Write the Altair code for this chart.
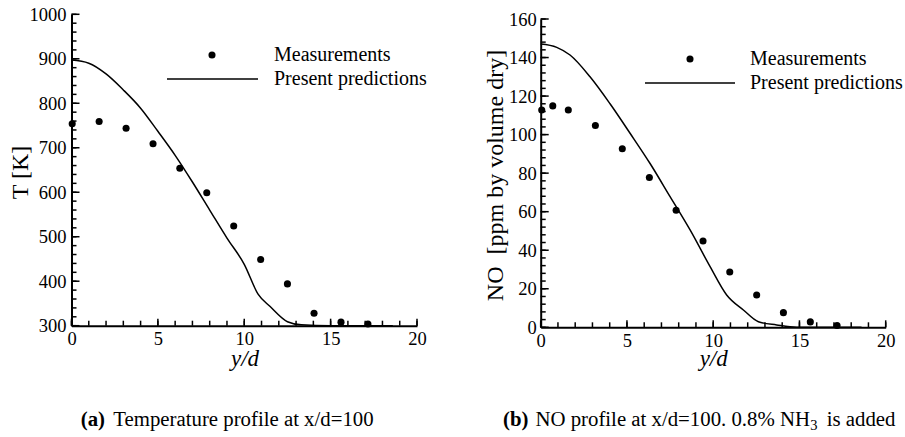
import altair as alt
import pandas as pd

FONT = "Liberation Serif"

# ---------------- data ----------------
# (a) temperature
t_meas_x = [0.04, 1.6, 3.16, 4.72, 6.27, 7.83, 9.39, 10.95, 12.5, 14.04, 15.6, 17.16]
t_meas_y = [754, 759, 744, 709, 654, 599, 524, 449, 394, 328, 308, 304]
t_pred_x = [0, 1, 2, 3, 4, 5, 6, 7, 8, 9, 10, 10.8, 11.5, 12.5, 13.3, 15, 18.6]
t_pred_y = [897, 890, 866, 830, 789, 737, 683, 623, 560, 497, 438, 371, 343, 309, 302, 300, 300]

# (b) NO
no_meas_x = [0.06, 0.7, 1.6, 3.17, 4.73, 6.3, 7.85, 9.41, 10.96, 12.52, 14.07, 15.63, 17.18]
no_meas_y = [112.8, 114.9, 112.8, 104.7, 92.7, 77.7, 60.7, 44.8, 28.7, 16.8, 7.6, 2.8, 0.9]
no_pred_x = [0, 0.93, 1.7, 2.86, 4.02, 5.18, 6.34, 7.5, 8.66, 9.82, 10.78, 11.75, 12.62, 13.68, 14.84, 18.6]
no_pred_y = [147, 145.3, 141.3, 130, 116, 100.7, 85, 67.8, 50.5, 31.5, 16.8, 9, 2.9, 1.2, 0, 0]

x_major = [0, 5, 10, 15, 20]
x_minor = list(range(0, 21))
t_major = list(range(300, 1001, 100))
t_minor = list(range(300, 1001, 20))
no_major = list(range(0, 161, 20))
no_minor = list(range(0, 161, 4))

legend_labels = ["Measurements", "Present predictions"]
x_title = "y/d"
t_title = "T [K]"
no_title = "NO\u00a0\u00a0[ppm by volume dry]"

# ---------------- geometry ----------------
W = 814.2
H = 313

t_meas = pd.DataFrame({"x": t_meas_x, "y": t_meas_y})
t_pred = pd.DataFrame({"x": t_pred_x, "y": t_pred_y})
no_meas = pd.DataFrame({"x": no_meas_x, "y": no_meas_y})
no_pred = pd.DataFrame({"x": no_pred_x, "y": no_pred_y})
one = pd.DataFrame({"k": [0]})


def label_axis_x(offset, tx, ty):
    return alt.Axis(orient="bottom", offset=offset, values=x_major, ticks=False, tickSize=0,
                    format="d", labelPadding=4, labelFont=FONT, labelFontSize=18.5,
                    labelColor="black", labelFlush=False, labelOverlap=False, domain=True,
                    domainColor="black", domainWidth=2, grid=False, title=x_title,
                    titleFont=FONT, titleFontSize=23, titleFontStyle="italic",
                    titleFontWeight="normal", titleColor="black", titleX=tx, titleY=ty,
                    titleBaseline="alphabetic", titleAlign="center")


def label_axis_y(offset, vals, title, tx, ty, pad):
    return alt.Axis(orient="left", offset=offset, values=vals, ticks=False, tickSize=0,
                    format="d", labelPadding=pad, labelFont=FONT, labelFontSize=18.5,
                    labelColor="black", labelFlush=False, labelOverlap=False, domain=True,
                    domainColor="black", domainWidth=2, grid=False, title=title,
                    titleFont=FONT, titleFontSize=24, titleFontWeight="normal",
                    titleColor="black", titleAngle=270, titleX=tx, titleY=ty,
                    titleBaseline="alphabetic", titleAlign="center")


TICK_COLOR = "black"


def tick_layers(xs, ys, xax, yax, bottom_px, left_px, xvals, yvals, xlen, ylen):
    """Inward ticks drawn as rules placed through the panel's own scales."""
    xt = alt.Chart(pd.DataFrame({"v": xvals})).mark_rule(color=TICK_COLOR, strokeWidth=1.5).encode(
        x=alt.X("v:Q", scale=xs, axis=xax),
        y=alt.value(bottom_px), y2=alt.value(bottom_px - xlen))
    yt = alt.Chart(pd.DataFrame({"v": yvals})).mark_rule(color=TICK_COLOR, strokeWidth=1.5).encode(
        y=alt.Y("v:Q", scale=ys, axis=yax),
        x=alt.value(left_px), x2=alt.value(left_px + ylen))
    return [xt, yt]


def panel(meas, pred, xs, ys, xax, yax, bottom_px, left_px, ymaj, ymin):
    pts = alt.Chart(meas).mark_circle(size=50, color="black", opacity=1).encode(
        x=alt.X("x:Q", scale=xs, axis=xax),
        y=alt.Y("y:Q", scale=ys, axis=yax),
    )
    line = alt.Chart(pred).mark_line(color="black", strokeWidth=1.5, interpolate="monotone").encode(
        x=alt.X("x:Q", scale=xs, axis=xax),
        y=alt.Y("y:Q", scale=ys, axis=yax),
    )
    layers = [pts, line]
    layers += tick_layers(xs, ys, xax, yax, bottom_px, left_px, x_major, ymaj, 7, 8)
    layers += tick_layers(xs, ys, xax, yax, bottom_px, left_px, x_minor, ymin, 5, 5)
    return alt.layer(*layers)


# left panel (a)
lxs = alt.Scale(domain=[0, 20], range=[0, 345.5], nice=False, zero=False)
lys = alt.Scale(domain=[300, 1000], range=[311.4, 0], nice=False, zero=False)
left = panel(t_meas, t_pred, lxs, lys,
             label_axis_x(-1.6, 173, 39.5),
             label_axis_y(0, t_major, t_title, -44, 157.7, 5.5),
             311.4, 0, t_major, t_minor)

# right panel (b)
rxs = alt.Scale(domain=[0, 20], range=[469.2, 814.2], nice=False, zero=False)
rys = alt.Scale(domain=[0, 160], range=[313, 4.7], nice=False, zero=False)
right = panel(no_meas, no_pred, rxs, rys,
              label_axis_x(0, 641.7, 38),
              label_axis_y(-469.2, no_major, no_title, -38.7, 160.7, 4.5),
              313, 469.2, no_major, no_minor)


def txt(s, x, y, size=20, weight="normal", align="left", baseline="middle"):
    return alt.Chart(one).mark_text(text=s, font=FONT, fontSize=size, fontWeight=weight,
                                    align=align, baseline=baseline, color="black").encode(
        x=alt.value(x), y=alt.value(y))


def legend(mx, my, lx1, lx2, ly, tx):
    dot = alt.Chart(one).mark_circle(size=50, color="black", opacity=1).encode(
        x=alt.value(mx), y=alt.value(my))
    seg = alt.Chart(one).mark_rule(color="black", strokeWidth=1.5).encode(
        x=alt.value(lx1), x2=alt.value(lx2), y=alt.value(ly))
    return [dot, seg, txt(legend_labels[0], tx, my), txt(legend_labels[1], tx, ly)]


ann = []
ann += legend(140.5, 40.7, 95.5, 186.5, 64.7, 202.5)
ann += legend(618.5, 44.7, 573.5, 663.5, 68.7, 678.5)
cap_y = 411.4
ann += [
    txt("(a)", 9.2, cap_y, 20.8, "bold", baseline="alphabetic"),
    txt("Temperature profile at x/d=100", 41.8, cap_y, 20.8, baseline="alphabetic"),
    txt("(b)", 431.5, cap_y, 20.8, "bold", baseline="alphabetic"),
    txt("NO profile at x/d=100. 0.8% NH", 738.5, cap_y, 20.8, align="right", baseline="alphabetic"),
    txt("3", 738.8, cap_y + 4, 14.5, baseline="alphabetic"),
    txt("is added", 755.2, cap_y, 20.8, baseline="alphabetic"),
]

chart = alt.layer(left, right, *ann).resolve_scale(
    x="independent", y="independent"
).properties(
    width=W, height=H,
    autosize=alt.AutoSizeParams(type="none"),
    padding={"left": 71.5, "top": 14.3, "right": 19.3, "bottom": 109.7},
    background="white",
).configure_view(stroke=None)

chart.save("out.html", embed_options={"renderer": "svg", "actions": False})
